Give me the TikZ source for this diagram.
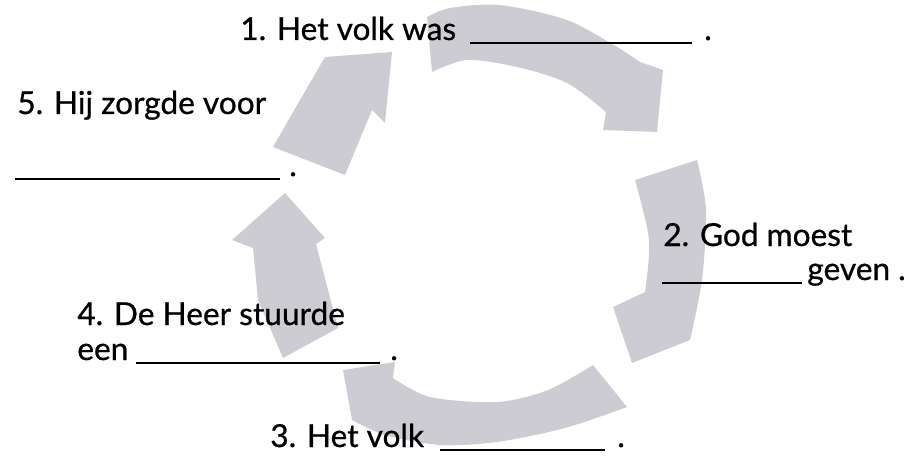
\documentclass[tikz,border=0pt]{standalone}
\usepackage{fontspec}
\usepackage{tikz}
\newfontfamily\cyclefont[FakeBold=0.7]{Lato}
\definecolor{arrowgray}{RGB}{206,204,211}

\begin{document}
\begin{tikzpicture}[x=0.02cm, y=-0.02cm,
  every node/.style={font=\cyclefont\fontsize{18}{22}\selectfont, inner sep=0pt, anchor=base west},
  cyclearrow/.style={fill=arrowgray},
  blankline/.style={line width=1.1pt}]

\useasboundingbox (0,0) rectangle (918,459);

% Frecce del ciclo
\fill[cyclearrow] (432,72) -- (427,17) -- plot[smooth] coordinates {(427,17) (450,8) (500,5) (567,20) (617,47) (640,62)} -- (663,70) -- (657,132) -- (603,130) -- plot[smooth] coordinates {(606,112) (567,83) (517,67) (467,60) (432,72)} -- cycle;
\fill[cyclearrow] (635,180) -- (697,160) -- plot[smooth] coordinates {(697,160) (706,210) (702,280) (690,340)} -- (632,363) -- (613,307) -- plot[smooth] coordinates {(645,292) (649,240) (635,180)} -- cycle;
\fill[cyclearrow] (593,365) -- (627,407) -- plot[smooth] coordinates {(627,407) (565,428) (497,442) (440,445) (385,435) (352,420)} -- (343,370) -- (395,362) -- plot[smooth] coordinates {(393,378) (430,397) (497,402) (548,390) (593,365)} -- cycle;
\fill[cyclearrow] (285,193) -- (325,238) -- (316,244) -- (338,328) -- (283,358) -- (258,300) -- (253,248) -- (232,240) -- cycle;
\fill[cyclearrow] (273,147) -- (300,100) -- (325,57) -- (392,52) -- (385,123) -- (372,110) -- (345,175) -- cycle;

% Testi
\node (t1) at (240,40) {1. Het volk was};
\node (p1) at (704,40) {.};
\node (t2) at (663,246) {2. God moest};
\node (t2b) at (807,280) {geven .};
\node (t3) at (270,447) {3. Het volk};
\node (p3) at (617,447) {.};
\node (t4) at (77,325) {4. De Heer stuurde};
\node (t4b) at (77,360) {een};
\node (p4) at (390,360) {.};
\node (t5) at (17,114) {5. Hij zorgde voor};
\node (p5) at (289,176) {.};

% Righe da completare
\draw[blankline] (470,43) -- (692,43);
\draw[blankline] (662,283) -- (802,283);
\draw[blankline] (440,450) -- (605,450);
\draw[blankline] (136,363) -- (380,363);
\draw[blankline] (15,179) -- (280,179);
\end{tikzpicture}
\end{document}
